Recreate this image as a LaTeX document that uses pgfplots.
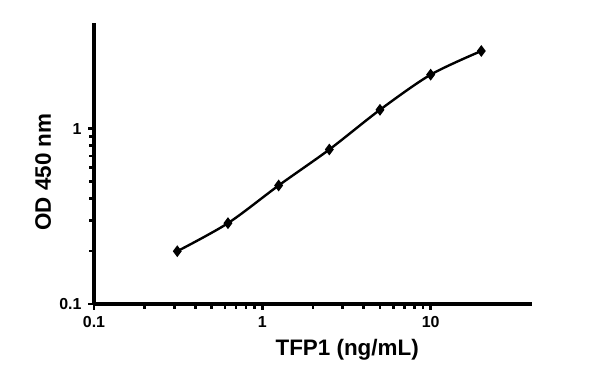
\documentclass[border=0pt]{standalone}
\usepackage{pgfplots}
\pgfplotsset{compat=1.18}
\usepackage{fontspec}
\setmainfont{Liberation Sans}
\begin{document}
\begin{tikzpicture}
\path[use as bounding box] (-94bp,-62bp) rectangle (506bp,304bp);
\begin{axis}[
  at={(0,0)}, anchor=south west,
  scale only axis,
  width=438bp, height=281bp,
  xmode=log, ymode=log,
  xmin=0.1, xmax=40, ymin=0.1, ymax=4,
  axis x line=bottom, axis y line=left,
  x axis line style={-, line width=3.5pt},
  y axis line style={-, line width=3.5pt},
  xtick={0.1,1,10}, xticklabels={0.1,1,10},
  ytick={0.1,1}, yticklabels={0.1,1},
  tick align=outside,
  major tick length=6pt, minor tick length=5pt,
  every tick/.style={black, line width=2.4pt},
  tick label style={font=\fontsize{16}{17}\selectfont\bfseries},
  xticklabel style={yshift=-3pt},
  yticklabel style={xshift=-3pt},
  xlabel={TFP1 (ng/mL)},
  ylabel={OD 450 nm},
  label style={font=\fontsize{22.5}{24}\selectfont\bfseries},
  x label style={at={(axis description cs:0.578,-0.164)}, anchor=center},
  y label style={at={(axis description cs:-0.116,0.47)}, anchor=center},
  clip=false,
]
\addplot[black, line width=2.4pt, smooth, mark=diamond*, mark size=4pt, mark options={solid, fill=black}]
coordinates {
(0.3125,0.200)
(0.625,0.289)
(1.25,0.474)
(2.5,0.760)
(5,1.28)
(10,2.03)
(20,2.77)
};
\end{axis}
\end{tikzpicture}
\end{document}
